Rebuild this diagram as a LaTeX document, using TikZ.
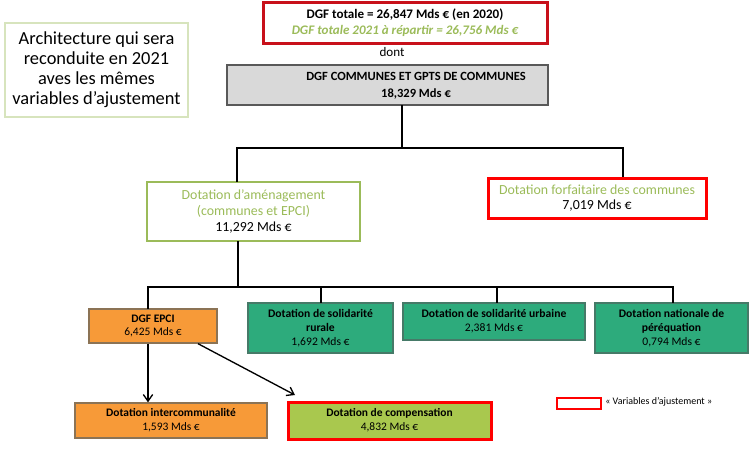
\documentclass[tikz,border=0pt]{standalone}
\usepackage{fontspec}
\setmainfont{Carlito}
\usetikzlibrary{arrows.meta}
\definecolor{cOlive}{HTML}{9BBB59}
\definecolor{cArch}{HTML}{D7E4BD}
\definecolor{cDarkRed}{HTML}{C8101A}
\definecolor{cRed}{HTML}{FF0000}
\definecolor{cGrey}{HTML}{D9D9D9}
\definecolor{cGreyB}{HTML}{595959}
\definecolor{cTeal}{HTML}{2DAB7C}
\definecolor{cTealB}{HTML}{467A68}
\definecolor{cOrange}{HTML}{F79A38}
\definecolor{cOrangeB}{HTML}{8B7355}
\definecolor{cLime}{HTML}{A9C84E}
\begin{document}
\begin{tikzpicture}[x=0.75pt,y=-0.75pt,
  wh/.style 2 args={minimum width=#1*0.75pt, minimum height=#2*0.75pt, inner sep=0pt, align=center},
  fs/.style 2 args={font=\fontsize{#1}{#2}\selectfont},
  tealbox/.style={draw=cTealB, fill=cTeal, line width=1pt, fs={8.7}{10.5}},
  orbox/.style={draw=cOrangeB, fill=cOrange, line width=1pt, fs={8.6}{10.5}},
  tree/.style={line width=1.4pt, line cap=rect},
  arr/.style={line width=1pt, -{Straight Barb[length=5pt,width=7pt]}}]
\useasboundingbox (0,0) rectangle (750,450);

% boxes
\node[wh={183}{94}, draw=cArch, line width=1pt, fs={13.8}{15}] (arch) at (96.5,70)
  {Architecture qui sera\\reconduite en 2021\\aves les mêmes\\variables d’ajustement};
\node[wh={284}{41}, draw=cDarkRed, line width=2.25pt, fs={9.8}{12}] (top) at (405,22.5)
  {\textbf{DGF totale = 26,847 Mds € (en 2020)}\\\textcolor{cOlive}{\bfseries\itshape DGF totale 2021 à répartir = 26,756 Mds €}};
\node[fs={9.8}{12}, inner sep=0pt] (dont) at (392,52) {dont};
\node[wh={321}{40}, draw=cGreyB, fill=cGrey, line width=1.5pt] (comm) at (387.5,85) {};
\node[fs={9.4}{12.75}, align=center, inner sep=0pt] (commtxt) at (416,85.5)
  {\textbf{DGF COMMUNES ET GPTS DE COMMUNES}\\\textbf{18,329 Mds €}};
\node[wh={213}{59}, draw=cOlive, line width=2pt, fs={10.4}{12}] (amen) at (253.5,211.5)
  {\textcolor{cOlive}{Dotation d’aménagement}\\\textcolor{cOlive}{(communes et EPCI)}\\11,292 Mds €};
\node[wh={218}{40}, draw=cRed, line width=2.25pt, fs={10.4}{11}] (forf) at (597,198)
  {\textcolor{cOlive}{Dotation forfaitaire des communes}\\7,019 Mds €};
\node[wh={128}{34}, orbox, fs={8.6}{9.8}] (epci) at (153,326) {\textbf{DGF EPCI}\\6,425 Mds €};
\node[wh={145}{50}, tealbox] (rural) at (320.5,328) {\textbf{Dotation de solidarité}\\\textbf{rurale}\\1,692 Mds €};
\node[wh={182}{37}, tealbox] (urb) at (494,321.5) {\textbf{Dotation de solidarité urbaine}\\2,381 Mds €};
\node[wh={153}{50}, tealbox] (perq) at (671.5,328) {\textbf{Dotation nationale de}\\\textbf{péréquation}\\0,794 Mds €};
\node[wh={192}{35}, orbox] (inter) at (171,420.5) {\textbf{Dotation intercommunalité}\\1,593 Mds €};
\node[wh={203}{37}, draw=cRed, fill=cLime, line width=2.25pt, fs={8.6}{10.5}] (comp) at (389.5,420.5)
  {\textbf{Dotation de compensation}\\4,832 Mds €};
\node[wh={44}{11}, draw=cRed, line width=2pt] (leg) at (579,403.5) {};
\node[fs={7.5}{8}, anchor=west, inner sep=0pt] (legtxt) at (605,402) {« Variables d’ajustement »};

% tree connectors
\coordinate (j1) at (402,148);
\coordinate (b1) at (237,148);
\coordinate (b2) at (623,148);
\draw[tree] (comm.south -| j1) -- (j1);
\draw[tree] (amen.north -| b1) -- (b1) -- (b2) -- (forf.north -| b2);

\coordinate (j2) at (238,287);
\coordinate (c1) at (148,287);
\coordinate (c2) at (321,287);
\coordinate (c3) at (497,287);
\coordinate (c4) at (673,287);
\draw[tree] (amen.south -| j2) -- (j2);
\draw[tree] (epci.north -| c1) -- (c1) -- (c4) -- (perq.north -| c4);
\draw[tree] (c2) -- (rural.north -| c2);
\draw[tree] (c3) -- (urb.north -| c3);

% arrows
\coordinate (a1) at (148,0);
\coordinate (d1) at (198,0);
\coordinate (d2) at (295,395);
\draw[arr] (epci.south -| a1) -- (inter.north -| a1);
\draw[arr] (epci.south -| d1) -- (d2);
\end{tikzpicture}
\end{document}
